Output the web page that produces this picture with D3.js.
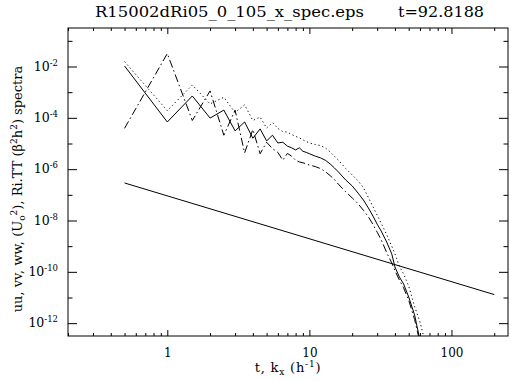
<!DOCTYPE html>
<html><head><meta charset="utf-8">
<script src="https://cdn.jsdelivr.net/npm/d3@7"></script>
<style>
html,body{margin:0;padding:0;background:#fff;}
svg text{font-family:"DejaVu Serif",serif;fill:#000;}
</style></head>
<body><div id="chart"></div>
<script>
// ---- data ----
const wavenumbers = [0.5,1,1.5,2,2.5,3,3.5,4,4.5,5,5.5,6,6.5,7,7.5,8,8.5,9,9.5,10,11,12,13,14,15,16,18,20,22,24,26,28,30,32,35,38,40,43,46,50,55,60,65];
const uuSpectrum = [1.05e-2,6.9e-5,7.1e-4,9.8e-5,2.0e-4,3.1e-5,6.9e-5,1.6e-5,3.7e-5,1.26e-5,2.1e-5,1.05e-5,1.12e-5,7.9e-6,6.8e-6,5.6e-6,6.8e-6,5.0e-6,4.5e-6,4.0e-6,3.2e-6,2.75e-6,2.2e-6,1.6e-6,1.12e-6,7.8e-7,3.8e-7,2.24e-7,1.17e-7,6.3e-8,3.1e-8,1.5e-8,7.2e-9,3.9e-9,1.45e-9,5.0e-10,1.55e-10,6.3e-11,3.4e-11,1.05e-11,2.1e-12,2.2e-13,3.7e-14];
const vvSpectrum = [1.55e-2,1.9e-4,1.9e-3,3.5e-4,6.3e-4,1.6e-4,3.2e-4,7.9e-5,1.07e-4,4.0e-5,6.5e-5,3.9e-5,2.9e-5,2.8e-5,2.24e-5,1.9e-5,1.66e-5,1.38e-5,1.2e-5,1.05e-5,9.1e-6,8.3e-6,6.6e-6,4.7e-6,3.2e-6,2.24e-6,1.07e-6,6.0e-7,3.5e-7,1.9e-7,7.9e-8,3.5e-8,1.6e-8,7.9e-9,2.8e-9,1.0e-9,5.0e-10,1.66e-10,8.3e-11,2.8e-11,4.5e-12,1.12e-12,2.0e-13];
const wwSpectrum = [3.9e-5,3.2e-2,7.9e-5,1.12e-3,2.1e-5,2.0e-4,4.3e-6,3.5e-5,4.0e-6,1.12e-5,6.3e-6,4.5e-6,2.24e-6,4.1e-6,3.2e-6,2.24e-6,1.9e-6,1.78e-6,1.6e-6,1.45e-6,1.26e-6,1.05e-6,7.9e-7,5.6e-7,4.0e-7,2.6e-7,1.32e-7,7.6e-8,4.5e-8,2.5e-8,1.4e-8,7.1e-9,3.5e-9,1.8e-9,5.6e-10,2.24e-10,1.12e-10,4.8e-11,2.4e-11,7.9e-12,1.4e-12,1.8e-13,3.2e-14];
const refLineK = [0.5, 200];
const refLineValues = [2.9e-7, 1.3e-11];

const xMajorTicks = [1, 10, 100];
const xMinorTicks = [0.2,0.3,0.4,0.5,0.6,0.7,0.8,0.9,2,3,4,5,6,7,8,9,20,30,40,50,60,70,80,90,200];
const xTickLabels = ["1", "10", "100"];
const yMajorTicks = [1e-2,1e-4,1e-6,1e-8,1e-10,1e-12];
const yMinorTicks = [1e-1,1e-3,1e-5,1e-7,1e-9,1e-11];
const yTickExponents = ["-2","-4","-6","-8","-10","-12"];

const titleText = "R15002dRi05_0_105_x_spec.eps";
const timeText = "t=92.8188";

// ---- layout ----
const W = 511, H = 381;
const m = {left: 68, right: 3, top: 28, bottom: 45};
const svg = d3.select("#chart").append("svg").attr("width", W).attr("height", H);

const x = d3.scaleLog().domain([0.2, 250]).range([m.left, W - m.right]);
const y = d3.scaleLog().domain([Math.pow(10,-12.5), Math.pow(10,-0.5)]).range([H - m.bottom, m.top]);

svg.append("defs").append("clipPath").attr("id","clip")
  .append("rect").attr("x", m.left).attr("y", m.top)
  .attr("width", x.range()[1]-m.left).attr("height", y.range()[0]-m.top);

const plot = svg.append("g").attr("clip-path","url(#clip)");
const line = d3.line().x(d => x(d[0])).y(d => y(d[1]));

function series(vals, dash) {
  plot.append("path")
    .datum(wavenumbers.map((k,i) => [k, vals[i]]))
    .attr("d", line).attr("fill","none").attr("stroke","#000").attr("stroke-width",1)
    .attr("stroke-dasharray", dash);
}
series(uuSpectrum, null);
series(vvSpectrum, "1.2,2.8");
series(wwSpectrum, "8,3,1.5,3");
plot.append("path").datum(refLineK.map((k,i)=>[k, refLineValues[i]]))
  .attr("d", line).attr("fill","none").attr("stroke","#000").attr("stroke-width",1);

// ---- axes ----
const bottomY = y.range()[0], topY = m.top, leftX = m.left, rightX = x.range()[1];
function ax(gen, tr) {
  const g = svg.append("g").attr("transform", tr).call(gen);
  g.select(".domain").remove();
  g.selectAll("line").attr("stroke","#000").attr("stroke-width",1);
  return g;
}
const xb = ax(d3.axisBottom(x).tickValues(xMajorTicks).tickSizeInner(-6).tickSizeOuter(0).tickPadding(12)
   .tickFormat((d,i) => xTickLabels[i]), `translate(0,${bottomY})`);
xb.selectAll("text").attr("font-size", 12).attr("font-family","DejaVu Serif").attr("fill","#000");
ax(d3.axisBottom(x).tickValues(xMinorTicks).tickSizeInner(-3).tickSizeOuter(0).tickFormat(""), `translate(0,${bottomY})`);
ax(d3.axisTop(x).tickValues(xMajorTicks).tickSizeInner(-6).tickSizeOuter(0).tickFormat(""), `translate(0,${topY})`);
ax(d3.axisTop(x).tickValues(xMinorTicks).tickSizeInner(-3).tickSizeOuter(0).tickFormat(""), `translate(0,${topY})`);
ax(d3.axisLeft(y).tickValues(yMajorTicks).tickSizeInner(-9).tickSizeOuter(0).tickFormat(""), `translate(${leftX},0)`);
ax(d3.axisLeft(y).tickValues(yMinorTicks).tickSizeInner(-4.5).tickSizeOuter(0).tickFormat(""), `translate(${leftX},0)`);
ax(d3.axisRight(y).tickValues(yMajorTicks).tickSizeInner(-9).tickSizeOuter(0).tickFormat(""), `translate(${rightX},0)`);
ax(d3.axisRight(y).tickValues(yMinorTicks).tickSizeInner(-4.5).tickSizeOuter(0).tickFormat(""), `translate(${rightX},0)`);

svg.append("rect").attr("x", leftX).attr("y", topY).attr("width", rightX-leftX).attr("height", bottomY-topY)
  .attr("fill","none").attr("stroke","#000").attr("stroke-width",1);

// y tick labels
yMajorTicks.forEach((v,i) => {
  const t = svg.append("text").attr("x", 58).attr("y", y(v)+4).attr("text-anchor","end").attr("font-size",12.5);
  t.append("tspan").text("10");
  t.append("tspan").attr("dy",-5).attr("font-size",8.5).text(yTickExponents[i]);
});

// title
svg.append("text").attr("x", 95).attr("y", 17).attr("font-size", 14)
  .attr("textLength", 269).attr("lengthAdjust","spacingAndGlyphs").text(titleText);
svg.append("text").attr("x", 398).attr("y", 17).attr("font-size", 14)
  .attr("textLength", 86).attr("lengthAdjust","spacingAndGlyphs").text(timeText);

// x title
const cx = (leftX + rightX)/2;
const xt = svg.append("text").attr("x", cx).attr("y", 372).attr("text-anchor","middle")
  .attr("font-size",13).attr("letter-spacing",0.8);
xt.append("tspan").text("t, k");
xt.append("tspan").attr("dy",3).attr("font-size",9).text("x");
xt.append("tspan").attr("dy",-3).text(" (h");
xt.append("tspan").attr("dy",-5).attr("font-size",9).text("-1");
xt.append("tspan").attr("dy",5).text(")");

// y title
const cy = (topY + bottomY)/2 + 7;
const yt = svg.append("text").attr("transform", `translate(22,${cy}) rotate(-90)`).attr("text-anchor","middle").attr("font-size",13);
yt.append("tspan").text("uu, vv, ww, (U");
yt.append("tspan").attr("dy",3).attr("font-size",9).text("o");
yt.append("tspan").attr("dy",-8).attr("font-size",9).text("2");
yt.append("tspan").attr("dy",5).text("), Ri.TT (β");
yt.append("tspan").attr("dy",-5).attr("font-size",9).text("2");
yt.append("tspan").attr("dy",5).text("h");
yt.append("tspan").attr("dy",-5).attr("font-size",9).text("2");
yt.append("tspan").attr("dy",5).text(") spectra");
</script></body></html>
